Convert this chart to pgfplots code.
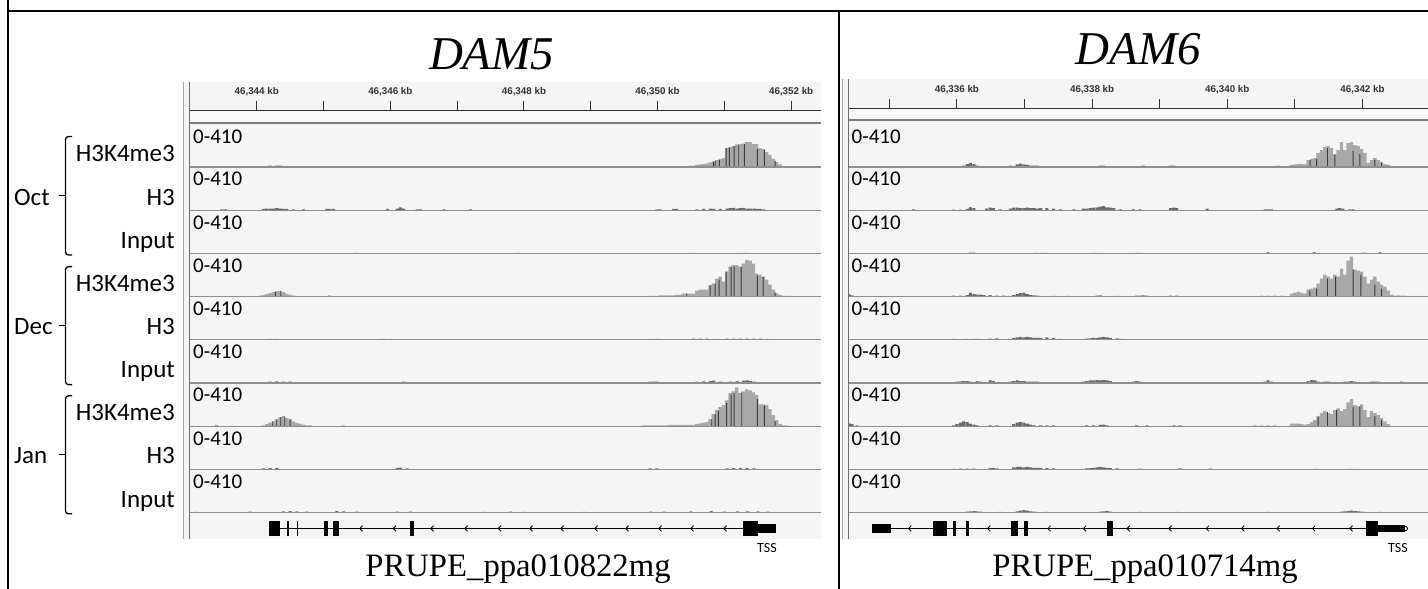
\documentclass[border=0pt]{standalone}
\usepackage{fontspec}
\setmainfont{Carlito}
\newfontfamily\titlefont{Liberation Serif}
\newfontfamily\rulerfont{Liberation Sans}
\usepackage{pgfplots}
\pgfplotsset{compat=1.18}
\definecolor{bg}{HTML}{F5F5F5}
\definecolor{bgl}{HTML}{F8F8F8}
\definecolor{barg}{HTML}{A8A8A8}
\definecolor{bardk}{HTML}{3A3A3A}
\definecolor{noic}{HTML}{6A6A6A}
\definecolor{sepc}{HTML}{8E8E8E}
\definecolor{thickc}{HTML}{7C7C7C}
\definecolor{rulc}{HTML}{333333}
\definecolor{stripc}{HTML}{A8A8A8}
\definecolor{edgec}{HTML}{6E6E6E}

\pgfdeclareplotmark{chev}{%
  \pgfpathmoveto{\pgfqpoint{1.5pt}{2.8pt}}%
  \pgfpathlineto{\pgfqpoint{-1.3pt}{0pt}}%
  \pgfpathlineto{\pgfqpoint{1.5pt}{-2.8pt}}%
  \pgfusepathqstroke}

\pgfplotsset{
 trkL/.style={scale only axis, width=630.7pt, height=43.2pt, xmin=13.0015, xmax=22.442, ymin=0, ymax=410, axis lines=none, anchor=south west},
 trkR/.style={scale only axis, width=579.7pt, height=43.2pt, xmin=4.396, xmax=12.972, ymin=0, ymax=410, axis lines=none, anchor=south west},
 cov/.style={ybar, bar width=0.05, bar shift=0pt, fill=barg, draw=none},
 noi/.style={ybar, bar width=0.045, bar shift=0pt, fill=noic, draw=none},
 dk/.style={ybar, bar width=0.014, bar shift=0pt, fill=bardk, draw=none},
}
% x = position in kb minus 46,330 kb ; y = read coverage (track range 0-410)
% #1 bottom of track (pt from top), #2 peak coverage, #3 dark stripes, #4 scattered low coverage
\newcommand\trkL[4]{%
 \begin{axis}[trkL, at={(190pt,-#1pt)}]
 \addplot[cov] coordinates {#2};
 \addplot[dk] coordinates {#3};
 \addplot[noi] coordinates {#4};
 \end{axis}}
\newcommand\trkR[4]{%
 \begin{axis}[trkR, at={(848.5pt,-#1pt)}]
 \addplot[cov] coordinates {#2};
 \addplot[dk] coordinates {#3};
 \addplot[noi] coordinates {#4};
 \end{axis}}
\newcommand\ex[4]{\addplot[fill=black,draw=none] coordinates {(#1,#3) (#2,#3) (#2,#4) (#1,#4)};}
\newcommand\brk[3]{%
 \draw[line width=1.3pt, rounded corners=3pt] (72,-#1) -- (65.5,-#1) -- (65.5,-#2) -- (72,-#2);
 \draw[line width=1.3pt] (65.5,-#3) -- (59,-#3);}

\begin{document}
\begin{tikzpicture}[x=1pt,y=1pt]
\useasboundingbox (0,0) rectangle (1428,-589);
\fill[white] (0,0) rectangle (1428,-589);
\fill[bg] (182,-81.7) rectangle (820.7,-539);
\fill[bg] (840.7,-79.3) rectangle (1428,-539);
\fill[bgl] (190,-110) rectangle (820.7,-121.5);
\fill[bgl] (848.5,-108.3) rectangle (1428,-118.5);

% ---------- rulers ----------
\begin{axis}[scale only axis, width=630.7pt, height=10pt, xmin=13.0015, xmax=22.442, ymin=0, ymax=1,
 at={(190pt,-110pt)}, anchor=south west, axis x line*=bottom, axis y line=none,
 x axis line style={rulc, line width=1pt, -},
 xtick={14,16,18,20,22}, minor xtick={15,17,19,21},
 xticklabels={{46,344 kb},{46,346 kb},{46,348 kb},{46,350 kb},{46,352 kb}},
 tick align=inside, major tick length=9pt, minor tick length=9pt,
 every tick/.style={rulc, line width=1pt},
 xticklabel style={font=\rulerfont\bfseries\fontsize{9.8}{10}\selectfont, text=rulc, anchor=base, yshift=15.8pt, inner sep=0pt}]
\addplot[draw=none] coordinates {(14,0.5)};
\end{axis}
\begin{axis}[scale only axis, width=579.7pt, height=10pt, xmin=4.396, xmax=12.972, ymin=0, ymax=1,
 at={(848.5pt,-108.3pt)}, anchor=south west, axis x line*=bottom, axis y line=none,
 x axis line style={rulc, line width=1pt, -},
 xtick={6,8,10,12}, minor xtick={5,7,9,11},
 xticklabels={{46,336 kb},{46,338 kb},{46,340 kb},{46,342 kb}},
 tick align=inside, major tick length=9.5pt, minor tick length=9.5pt,
 every tick/.style={rulc, line width=1pt},
 xticklabel style={font=\rulerfont\bfseries\fontsize{9.8}{10}\selectfont, text=rulc, anchor=base, yshift=16.1pt, inner sep=0pt}]
\addplot[draw=none] coordinates {(6,0.5)};
\end{axis}

\fill[thickc] (190,-121.5) rectangle (820.7,-124.2);
\fill[thickc] (848.5,-118.5) rectangle (1428,-121.3);

% ---------- left tracks ----------
% Oct H3K4me3
\trkL{167.0}{(19.888,7) (19.938,7) (19.988,7) (20.187,7) (20.237,7) (20.287,9) (20.337,9) (20.387,9) (20.437,9) (20.487,12) (20.536,12) (20.586,19) (20.636,24) (20.686,28) (20.736,31) (20.786,43) (20.836,52) (20.886,66) (20.936,76) (20.986,85) (21.035,180) (21.085,189) (21.135,199) (21.185,215) (21.235,218) (21.285,223) (21.335,237) (21.385,237) (21.435,218) (21.485,218) (21.534,180) (21.584,170) (21.634,142) (21.684,114) (21.734,76) (21.784,47) (21.834,26) (21.884,9)}
{(20.836,50) (20.861,57) (20.926,66) (21.025,180) (21.075,185) (21.145,199) (21.215,210) (21.30,220) (21.494,170) (21.60,160) (21.759,57)}
{(13.69,7) (14.10,9) (14.20,12) (14.30,14) (14.35,14) (14.45,9) (14.77,9) (15.04,7) (16.55,7) (16.60,7) (17.6,5)}
% Oct H3
\trkL{210.2}{(13.5,0)}{(16.15,20) (14.30,14)}
{(13.48,9) (13.53,9) (14.10,12) (14.15,14) (14.20,14) (14.25,16) (14.30,19) (14.35,16) (14.40,12) (14.45,12) (14.55,9) (14.70,9) (15.05,12) (15.10,12) (15.15,12) (15.96,12) (16.10,14) (16.15,26) (16.20,16) (16.40,9) (16.45,9) (16.80,9) (17.20,7) (19.99,9) (20.04,9) (20.24,12) (20.29,12) (20.59,9) (20.69,12) (20.79,14) (20.84,12) (20.94,12) (21.04,16) (21.09,19) (21.14,22) (21.19,16) (21.24,19) (21.29,22) (21.34,16) (21.39,14) (21.44,14) (21.49,12) (21.54,12) (21.59,9)}
% Oct Input
\trkL{253.4}{(13.5,0)}{(20.5,5)}{(15.5,6) (17.9,5) (20.5,6) (21.3,5)}
% Dec H3K4me3
\trkL{296.6}{(14.05,9) (14.10,14) (14.15,24) (14.20,33) (14.25,43) (14.30,52) (14.35,54) (14.40,43) (14.45,28) (14.50,19) (14.55,9) (14.60,7)
(19.888,7) (19.938,7) (19.988,7) (20.037,12) (20.087,12) (20.137,12) (20.187,12) (20.237,12) (20.287,16) (20.337,16) (20.387,28) (20.437,28) (20.487,28) (20.536,28) (20.586,57) (20.636,66) (20.686,66) (20.736,66) (20.786,109) (20.836,123) (20.886,170) (20.936,189) (20.986,142) (21.035,237) (21.085,284) (21.135,298) (21.185,298) (21.235,284) (21.285,313) (21.335,348) (21.385,341) (21.435,313) (21.485,218) (21.534,208) (21.584,189) (21.634,161) (21.684,114) (21.734,66) (21.784,31) (21.834,16) (21.884,7) (21.934,7) (21.984,7)}
{(14.28,45) (14.36,50) (20.437,28) (20.786,104) (20.861,123) (20.921,161) (21.025,237) (21.10,280) (21.145,284) (21.25,280) (21.494,199) (21.58,185) (21.759,38)}
{(15.087,9) (16.3,5)}
% Dec H3
\trkL{339.8}{(13.5,0)}{(21.14,9)}
{(14.2,9) (14.3,9) (14.4,7) (15.9,9) (16.0,9) (16.9,7) (19.9,9) (20.0,9) (20.54,12) (20.64,12) (20.74,12) (20.89,9) (21.04,12) (21.14,12) (21.24,12) (21.34,12) (21.44,12) (21.54,12) (21.64,9)}
% Dec Input
\trkL{383.0}{(13.5,0)}{(20.84,18) (21.34,22)}
{(14.1,9) (14.2,14) (14.3,16) (14.4,14) (14.5,12) (15.1,9) (15.2,9) (16.2,12) (16.3,9) (16.9,9) (17.0,9) (19.89,12) (19.94,14) (19.99,12) (20.19,9) (20.34,9) (20.59,14) (20.69,16) (20.79,19) (20.84,22) (20.94,14) (21.09,14) (21.19,19) (21.29,22) (21.34,26) (21.39,19) (21.44,14) (21.89,9)}
% Jan H3K4me3
\trkL{426.2}{(14.10,9) (14.15,19) (14.20,33) (14.25,47) (14.30,66) (14.35,85) (14.40,95) (14.45,80) (14.50,66) (14.55,47) (14.60,33) (14.65,24) (14.70,14) (14.75,9) (14.80,7)
(19.788,7) (19.838,7) (19.888,7) (19.938,7) (19.988,7) (20.037,7) (20.087,7) (20.137,7) (20.187,12) (20.237,12) (20.287,12) (20.337,12) (20.387,12) (20.437,12) (20.487,12) (20.536,12) (20.586,19) (20.636,28) (20.686,33) (20.736,38) (20.786,66) (20.836,114) (20.886,152) (20.936,180) (20.986,199) (21.035,246) (21.085,313) (21.135,331) (21.185,369) (21.235,313) (21.285,331) (21.335,350) (21.385,341) (21.435,322) (21.485,294) (21.534,208) (21.584,208) (21.634,199) (21.684,161) (21.734,104) (21.784,57) (21.834,22) (21.884,9) (21.934,7)}
{(14.24,45) (14.30,60) (14.36,85) (14.42,90) (14.50,60) (20.811,66) (20.861,114) (20.911,142) (21.035,218) (21.10,300) (21.145,313) (21.26,320) (21.494,256) (21.60,195) (21.759,47)}
{(13.4,7) (15.3,5)}
% Jan H3
\trkL{469.4}{(13.5,0)}{(16.15,12)}
{(14.1,9) (14.2,12) (14.3,12) (16.1,14) (16.15,16) (16.25,9) (19.89,9) (19.99,9) (21.04,9) (21.14,12) (21.24,12) (21.34,12) (21.44,9)}
% Jan Input
\trkL{512.6}{(13.5,0)}{(14.5,10) (20.8,10)}
{(13.1,7) (13.9,9) (14.4,12) (14.5,14) (14.6,12) (14.75,9) (15.2,14) (15.3,12) (15.5,9) (16.1,9) (16.3,9) (17.4,7) (17.8,9) (18.0,7) (18.9,7) (19.9,9) (20.1,9) (20.5,12) (20.8,14) (21.0,9) (21.2,12) (21.35,12) (21.5,12) (21.65,9)}

% ---------- right tracks ----------
% Oct H3K4me3
\trkR{167.0}{(10.555,9) (10.654,9) (10.753,12) (10.802,9) (10.950,19) (10.999,24) (11.049,28) (11.098,28) (11.147,24) (11.196,66) (11.246,76) (11.295,85) (11.344,133) (11.394,161) (11.443,189) (11.492,199) (11.542,180) (11.591,123) (11.640,161) (11.690,237) (11.739,161) (11.788,227) (11.837,237) (11.887,208) (11.936,199) (11.985,170) (12.035,133) (12.084,38) (12.133,66) (12.183,85) (12.232,66) (12.281,47) (12.331,28) (12.380,19) (12.429,9) (12.479,9) (12.577,9)}
{(11.226,66) (11.320,76) (11.482,180) (11.591,114) (11.862,151) (11.961,123) (12.183,66) (12.281,38)}
{(4.40,9) (5.36,7) (6.10,12) (6.15,28) (6.20,38) (6.25,28) (6.30,12) (6.45,7) (6.54,7) (6.69,9) (6.79,14) (6.89,24) (6.94,33) (6.99,24) (7.04,19) (7.09,14) (7.14,12) (7.19,12) (7.24,9) (7.33,9) (7.43,5) (7.48,9) (7.58,9) (7.68,9) (7.78,9) (8.12,12) (8.17,14) (8.42,7) (8.52,9) (8.66,9) (8.76,14) (8.81,9) (8.91,7) (9.16,12) (9.21,14) (9.35,7)}
% Oct H3
\trkR{210.2}{(5.0,0)}{(6.20,26) (6.49,22) (8.17,34) (11.66,17)}
{(5.36,7) (5.95,5) (6.05,5) (6.15,12) (6.20,28) (6.25,19) (6.44,14) (6.49,24) (6.54,19) (6.64,9) (6.79,14) (6.84,24) (6.89,24) (6.94,19) (6.99,19) (7.04,24) (7.09,19) (7.14,19) (7.19,14) (7.24,19) (7.33,19) (7.43,14) (7.53,7) (7.73,9) (7.87,14) (7.92,14) (7.97,19) (8.02,24) (8.07,28) (8.12,33) (8.17,38) (8.22,28) (8.27,24) (8.32,19) (8.42,9) (8.61,7) (8.71,9) (9.16,19) (9.21,24) (9.25,19) (9.70,14) (10.56,9) (10.60,9) (10.65,9) (11.62,14) (11.66,19) (11.71,14) (11.81,9) (11.86,9)}
% Oct Input
\trkR{253.4}{(5.0,0)}{(10.605,9) (11.286,9) (12.257,9)}
{(6.20,7) (6.25,7) (7.18,5) (7.26,5) (7.33,5) (8.05,5) (8.66,5) (8.71,5) (10.605,9) (11.286,9) (12.025,7) (12.257,9)}
% Dec H3K4me3
\trkR{296.6}{(10.506,9) (10.605,9) (10.704,9) (10.802,9) (10.950,28) (10.999,38) (11.049,47) (11.098,38) (11.147,28) (11.196,66) (11.246,76) (11.295,85) (11.344,123) (11.394,170) (11.443,208) (11.492,189) (11.542,170) (11.591,208) (11.640,189) (11.690,265) (11.739,208) (11.788,341) (11.837,379) (11.887,256) (11.936,246) (11.985,237) (12.035,189) (12.084,123) (12.133,161) (12.183,189) (12.232,142) (12.281,114) (12.331,95) (12.380,57) (12.429,19) (12.479,9) (12.528,12) (12.577,9) (12.626,9) (12.725,7) (12.824,7)}
{(11.221,57) (11.320,76) (11.482,170) (11.601,189) (11.862,256) (11.976,208) (12.183,114) (12.281,76)}
{(4.40,24) (4.45,12) (5.56,5) (5.70,5) (5.95,9) (6.05,9) (6.15,14) (6.20,38) (6.25,24) (6.30,19) (6.35,19) (6.40,14) (6.49,14) (6.59,9) (6.69,9) (6.84,14) (6.89,24) (6.94,33) (6.99,38) (7.04,24) (7.09,14) (7.14,12) (7.19,9) (7.43,7) (7.63,7) (8.07,9) (8.12,12) (8.37,7) (8.66,9) (8.71,9) (8.76,12) (8.81,9) (9.16,9) (9.25,9)}
% Dec H3
\trkR{339.8}{(5.0,0)}{(6.94,26) (7.04,26) (8.17,26)}
{(5.95,9) (6.15,9) (6.25,9) (6.30,9) (6.49,12) (6.59,14) (6.84,19) (6.89,24) (6.94,28) (6.99,24) (7.04,28) (7.09,24) (7.14,19) (7.19,19) (7.24,19) (7.33,24) (7.43,19) (7.53,9) (7.92,12) (7.97,14) (8.02,19) (8.07,19) (8.12,24) (8.17,28) (8.22,24) (8.27,19) (8.37,14) (8.42,9) (8.66,7) (8.76,5) (9.21,7) (9.30,7) (10.605,7) (11.295,5) (11.837,7) (11.936,5) (12.084,5)}
% Dec Input
\trkR{383.0}{(5.0,0)}{(6.49,22) (6.89,22) (8.07,26) (10.605,22) (11.246,26)}
{(4.40,9) (5.36,7) (6.00,14) (6.05,16) (6.10,19) (6.15,19) (6.20,14) (6.30,19) (6.35,14) (6.49,24) (6.54,19) (6.79,14) (6.84,19) (6.89,24) (6.94,19) (6.99,19) (7.04,14) (7.09,14) (7.14,14) (7.19,12) (7.33,9) (7.68,7) (7.87,12) (7.92,19) (7.97,24) (8.02,24) (8.07,28) (8.12,24) (8.17,28) (8.22,24) (8.27,19) (8.37,9) (8.61,14) (8.66,19) (8.71,14) (9.21,9) (9.30,7) (10.555,14) (10.605,24) (10.654,12) (11.196,19) (11.246,28) (11.295,24) (11.344,12) (11.443,14) (11.492,12) (11.690,9) (11.739,12) (11.788,14) (11.837,19) (11.887,14) (11.936,9) (12.133,12) (12.183,14) (12.232,12) (12.281,9) (12.429,7) (12.577,12) (12.626,9)}
% Jan H3K4me3
\trkR{426.2}{(10.408,7) (10.506,7) (10.605,7) (10.704,7) (10.950,24) (10.999,24) (11.049,24) (11.098,19) (11.147,14) (11.196,19) (11.246,38) (11.295,57) (11.344,95) (11.394,123) (11.443,142) (11.492,123) (11.542,114) (11.591,152) (11.640,170) (11.690,142) (11.739,161) (11.788,227) (11.837,256) (11.887,199) (11.936,189) (11.985,208) (12.035,152) (12.084,85) (12.133,142) (12.183,123) (12.232,104) (12.281,76) (12.331,47) (12.380,19)}
{(11.344,85) (11.482,133) (11.616,152) (11.862,180) (11.961,189) (12.183,95) (12.281,57)}
{(4.40,28) (4.45,19) (4.52,9) (5.95,9) (6.00,19) (6.05,33) (6.10,47) (6.15,38) (6.20,24) (6.25,14) (6.30,7) (6.49,7) (6.59,7) (6.84,19) (6.89,33) (6.94,38) (6.99,33) (7.04,24) (7.09,14) (7.14,9) (7.24,9) (7.33,9) (7.43,9) (7.92,9) (8.02,9) (8.12,12) (8.17,14) (8.22,9) (8.66,9) (8.81,9) (9.21,7) (9.30,7)}
% Jan H3
\trkR{469.4}{(5.0,0)}{(6.89,22) (7.04,22) (8.12,22)}
{(5.95,5) (6.05,7) (6.15,7) (6.25,7) (6.49,12) (6.54,14) (6.59,9) (6.84,19) (6.89,24) (6.94,24) (6.99,19) (7.04,24) (7.09,19) (7.14,14) (7.19,14) (7.24,14) (7.33,12) (7.43,9) (7.92,9) (7.97,12) (8.02,14) (8.07,19) (8.12,24) (8.17,19) (8.22,14) (8.27,12) (8.37,9) (8.71,7) (9.30,9) (9.75,7) (11.30,5) (11.84,5)}
% Jan Input
\trkR{512.6}{(5.0,0)}{(6.99,22) (11.84,17)}
{(6.15,9) (6.20,12) (6.25,14) (6.30,12) (6.35,9) (6.64,7) (6.89,12) (6.94,19) (6.99,24) (7.04,19) (7.09,12) (7.14,9) (7.33,7) (8.12,9) (8.17,12) (8.22,14) (8.27,9) (8.71,7) (9.25,7) (10.61,7) (11.44,5) (11.69,9) (11.74,12) (11.79,14) (11.84,19) (11.89,14) (11.94,12) (11.99,9) (12.04,7) (12.26,7)}

% ---------- gene tracks ----------
\begin{axis}[scale only axis, width=630.7pt, height=26.4pt, xmin=13.0015, xmax=22.442, ymin=0, ymax=26.4,
 axis lines=none, at={(190pt,-539pt)}, anchor=south west, clip=false]
\addplot[black, line width=1.1pt] coordinates {(14.184,10.5) (21.774,10.5)};
\addplot[only marks, mark=chev, mark options={line width=0.8pt, black}] coordinates {(15.561,10.5) (16.063,10.5) (16.624,10.5) (17.133,10.5) (17.635,10.5) (18.106,10.5) (18.570,10.5) (19.079,10.5) (19.543,10.5) (20.037,10.5) (20.516,10.5) (21.010,10.5)};
\ex{14.184}{14.349}{3.1}{17.9}
\ex{14.459}{14.481}{3.1}{17.9}
\ex{14.600}{14.622}{3.1}{17.9}
\ex{15.007}{15.067}{3.1}{17.9}
\ex{15.142}{15.232}{3.1}{17.9}
\ex{16.295}{16.355}{3.1}{17.9}
\ex{21.280}{21.500}{3.1}{17.9}
\ex{21.500}{21.774}{6.0}{15.0}
\end{axis}
\begin{axis}[scale only axis, width=579.7pt, height=26.4pt, xmin=4.396, xmax=12.972, ymin=0, ymax=26.4,
 axis lines=none, at={(848.5pt,-539pt)}, anchor=south west, clip=false]
\addplot[black, line width=1.1pt] coordinates {(4.747,10.5) (12.632,10.5)};
\addplot[only marks, mark=chev, mark options={line width=0.8pt, black}] coordinates {(5.302,10.5) (6.472,10.5) (7.365,10.5) (7.889,10.5) (8.536,10.5) (9.152,10.5) (9.706,10.5) (10.229,10.5) (10.753,10.5) (11.277,10.5) (11.831,10.5)};
\ex{4.747}{5.025}{6.0}{15.0}
\ex{5.641}{5.857}{3.1}{17.9}
\ex{5.936}{5.979}{3.1}{17.9}
\ex{6.133}{6.183}{3.1}{17.9}
\ex{6.799}{6.904}{3.1}{17.9}
\ex{6.996}{7.058}{3.1}{17.9}
\ex{8.216}{8.302}{3.1}{17.9}
\ex{12.047}{12.232}{3.1}{17.9}
\ex{12.232}{12.632}{7.0}{14.0}
\addplot[only marks, mark=o, mark size=2.2pt, mark options={black, fill=white, line width=0.8pt}] coordinates {(12.632,10.5)};
\end{axis}

% separators
\foreach \b in {167.0,210.2,253.4,296.6,339.8,383.0,426.2,469.4,512.6}{
 \draw[sepc, line width=1.3pt] (190,-\b) -- (820.7,-\b);
 \draw[sepc, line width=1.3pt] (848.5,-\b) -- (1428,-\b);}
% panel edges
\draw[stripc, line width=1pt] (183,-81.7) -- (183,-539);
\draw[edgec, line width=1.4pt] (189.6,-81.7) -- (189.6,-539);
\draw[stripc, line width=1pt] (842,-79.3) -- (842,-539);
\draw[edgec, line width=1.4pt] (848.5,-79.3) -- (848.5,-539);

% data range labels
\foreach \t in {124.2,167.0,210.2,253.4,296.6,339.8,383.0,426.2,469.4}{
 \node[anchor=north west, inner sep=0pt, font=\fontsize{21}{22}\selectfont] at (193,-\t-5) {0-410};
 \node[anchor=north west, inner sep=0pt, font=\fontsize{21}{22}\selectfont] at (851.5,-\t-5) {0-410};}

% row labels
\begin{scope}[every node/.style={anchor=base east, inner sep=0pt, font=\fontsize{25}{28}\selectfont}]
\node at (175,-161.8) {H3K4me3};
\node at (175,-205.0) {H3};
\node at (175,-248.2) {Input};
\node at (175,-291.4) {H3K4me3};
\node at (175,-334.6) {H3};
\node at (175,-377.8) {Input};
\node at (175,-420.6) {H3K4me3};
\node at (175,-463.8) {H3};
\node at (175,-507.0) {Input};
\end{scope}
\begin{scope}[every node/.style={anchor=base west, inner sep=0pt, font=\fontsize{25}{28}\selectfont}]
\node at (14,-205.0) {Oct};
\node at (14,-334.6) {Dec};
\node at (14,-463.8) {Jan};
\end{scope}
\brk{136.5}{255.0}{195.8}
\brk{266.6}{384.6}{325.6}
\brk{395.8}{513.8}{454.8}

% titles
\node[anchor=base, inner sep=0pt, font=\titlefont\itshape\fontsize{47}{50}\selectfont] at (491.7,-69) {DAM5};
\node[anchor=base, inner sep=0pt, font=\titlefont\itshape\fontsize{47}{50}\selectfont] at (1138.3,-64) {DAM6};
\node[anchor=base, inner sep=0pt, font=\titlefont\fontsize{32.7}{35}\selectfont] at (518,-576) {PRUPE\_ppa010822mg};
\node[anchor=base, inner sep=0pt, font=\titlefont\fontsize{32.7}{35}\selectfont] at (1145,-576) {PRUPE\_ppa010714mg};
\node[inner sep=0pt, font=\fontsize{14}{15}\selectfont] at (767,-548) {TSS};
\node[inner sep=0pt, font=\fontsize{14}{15}\selectfont] at (1398,-548) {TSS};

% frame lines
\draw[black, line width=2pt] (8,0) -- (8,-589);
\draw[black, line width=2pt] (7,-11) -- (1428,-11);
\draw[black, line width=2.2pt] (838.8,-11) -- (838.8,-589);
\end{tikzpicture}
\end{document}
